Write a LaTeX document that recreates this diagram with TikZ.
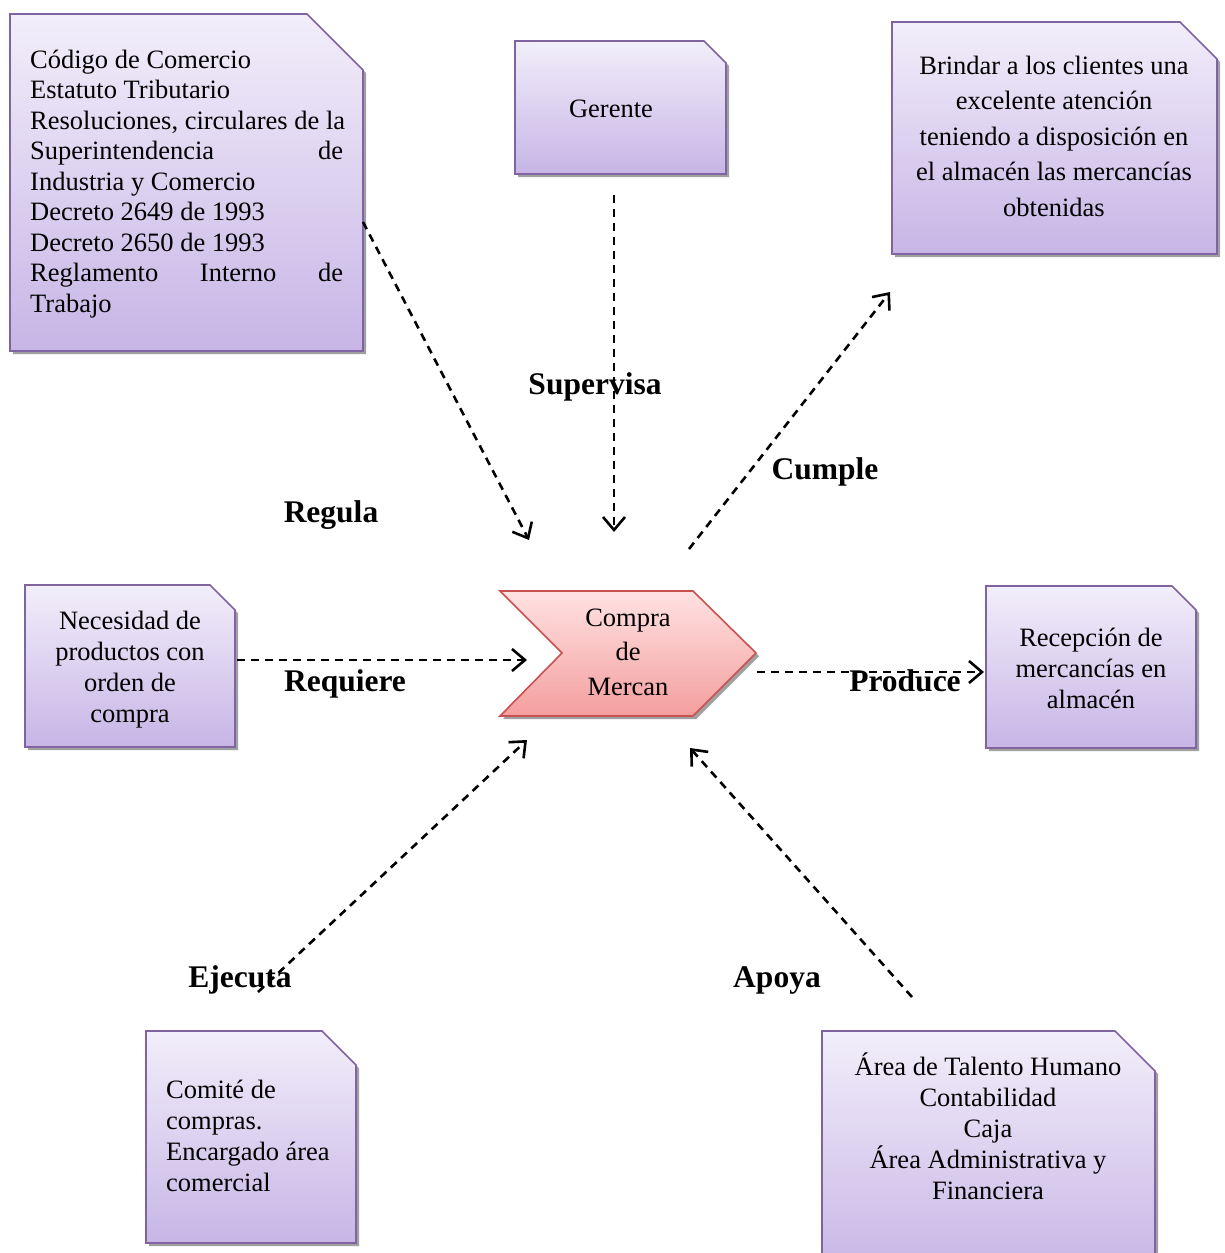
\documentclass[tikz,border=0pt]{standalone}
\usepackage{fontspec}
\setmainfont{Liberation Serif}
\usetikzlibrary{arrows.meta}

\definecolor{boxtop}{RGB}{242,238,250}
\definecolor{boxbot}{RGB}{199,181,230}
\definecolor{boxline}{RGB}{128,100,162}
\definecolor{chevtop}{RGB}{255,226,226}
\definecolor{chevbot}{RGB}{244,158,158}
\definecolor{chevline}{RGB}{200,82,80}
\definecolor{dropgray}{RGB}{160,160,160}

\tikzset{
  flow/.style={line width=2.6pt, dash pattern=on 8pt off 6pt,
    -{Straight Barb[length=13pt,width=22pt]}},
  verb/.style={font=\fontsize{31.5}{36}\selectfont\bfseries, inner sep=0pt, anchor=base},
  body/.style={font=\fontsize{26.5}{30.5}\selectfont, inner sep=0pt},
  holder/.style={inner sep=0pt, outer sep=0pt},
}

% snipped-corner box: name, left, top, right, bottom, corner cut
\newcommand\snipbox[6]{%
  \fill[dropgray] ({#2+3},{#3+3}) -- ({#4-#6+3},{#3+3}) -- ({#4+3},{#3+#6+3})
    -- ({#4+3},{#5+3}) -- ({#2+3},{#5+3}) -- cycle;
  \shadedraw[top color=boxtop, bottom color=boxbot, draw=boxline, line width=1.6pt]
    (#2,#3) -- ({#4-#6},#3) -- (#4,{#3+#6}) -- (#4,#5) -- (#2,#5) -- cycle;
  \node[holder, minimum width={#4-#2}, minimum height={#5-#3}] (#1)
    at ({(#2+#4)/2},{(#3+#5)/2}) {};
}

\begin{document}
\begin{tikzpicture}[x=1pt, y=-1pt]
\useasboundingbox[fill=white] (0,0) rectangle (1225,1253);

% boxes
\snipbox{norma}{10}{14}{363}{351}{56}
\snipbox{gerente}{515}{41}{726}{174}{22}
\snipbox{meta}{892}{22}{1217}{254}{37}
\snipbox{necesidad}{25}{585}{235}{747}{25}
\snipbox{recepcion}{986}{586}{1196}{748}{24}
\snipbox{comite}{146}{1031}{356}{1243}{34}
\snipbox{apoyo}{822}{1031}{1155}{1275}{40}

% central chevron
\fill[dropgray] (503,594) -- (696,594) -- (759,656) -- (696,719) -- (503,719) -- (565,656) -- cycle;
\shadedraw[top color=chevtop, bottom color=chevbot, draw=chevline, line width=1.6pt]
  (500,591) -- (693,591) -- (756,653) -- (693,716) -- (500,716) -- (562,653) -- cycle;
\node[holder, minimum width=256, minimum height=125] (compra) at (628,653) {};

% texts (multi-line nodes are placed by the baseline of their last line)
\node[body, align=left, anchor=base west] (normatxt) at (30,312)
  {Código de Comercio\\
   Estatuto Tributario\\
   Resoluciones, circulares de la\\
   \makebox[313pt][s]{Superintendencia\hfill de}\\
   Industria y Comercio\\
   Decreto 2649 de 1993\\
   Decreto 2650 de 1993\\
   \makebox[313pt][s]{Reglamento\hfill Interno\hfill de}\\
   Trabajo};
\node[body, anchor=base] (gerentetxt) at (611,117) {Gerente};
\node[body, font=\fontsize{26.5}{35.5}\selectfont, align=center, anchor=base] (metatxt) at (1054,216)
  {Brindar a los clientes una\\ excelente atención\\ teniendo a disposición en\\
   el almacén las mercancías\\ obtenidas};
\node[body, font=\fontsize{26.5}{31}\selectfont, align=center, anchor=base] (necesidadtxt) at (130,722)
  {Necesidad de\\ productos con\\ orden de\\ compra};
\node[body, font=\fontsize{26.5}{31}\selectfont, align=center, anchor=base] (recepciontxt) at (1091,708)
  {Recepción de\\ mercancías en\\ almacén};
\node[body, font=\fontsize{26.5}{31}\selectfont, align=left, anchor=base west] (comitetxt) at (166,1191)
  {Comité de\\ compras.\\ Encargado área\\ comercial};
\node[body, font=\fontsize{26.5}{30.8}\selectfont, align=center, anchor=base] (apoyotxt) at (988,1199)
  {Área de Talento Humano\\ Contabilidad\\ Caja\\ Área Administrativa y\\ Financiera};
\node[body, font=\fontsize{26.5}{34.5}\selectfont, align=center, anchor=base] (compratxt) at (628,695)
  {Compra\\ de\\ Mercan};

% connector ends
\coordinate (regA) at (363,222);   \coordinate (regB) at (529,540);
\coordinate (supA) at (614,195);   \coordinate (supB) at (614,532);
\coordinate (cumA) at (689,549);   \coordinate (cumB) at (890,292);
\coordinate (reqA) at (237,660);   \coordinate (reqB) at (527,660);
\coordinate (proA) at (757,672);   \coordinate (proB) at (984,672);
\coordinate (ejeA) at (258,992);   \coordinate (ejeB) at (527,740);
\coordinate (apoA) at (912,997);   \coordinate (apoB) at (690,748);

% verb labels
\node[verb] (regula) at (331,522) {Regula};
\node[verb] (supervisa) at (595,394) {Supervisa};
\node[verb] (cumple) at (825,479) {Cumple};
\node[verb] (requiere) at (345,691) {Requiere};
\node[verb] (produce) at (905,691) {Produce};
\node[verb] (ejecuta) at (240,987) {Ejecuta};
\node[verb] (apoya) at (777,987) {Apoya};

% connectors
\draw[flow] (regA) -- (regB);
\draw[flow] (supA) -- (supB);
\draw[flow] (cumA) -- (cumB);
\draw[flow] (reqA) -- (reqB);
\draw[flow] (proA) -- (proB);
\draw[flow] (ejeA) -- (ejeB);
\draw[flow] (apoA) -- (apoB);
\end{tikzpicture}
\end{document}
